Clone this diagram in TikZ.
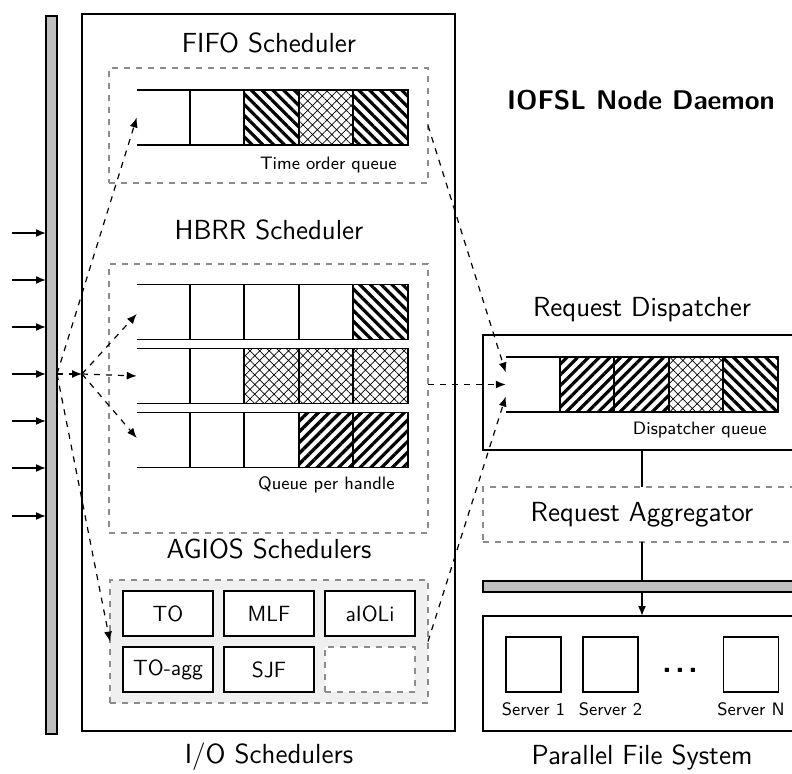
\documentclass[tikz,border=0pt]{standalone}
\usepackage{tikz}
\usetikzlibrary{positioning,patterns.meta,arrows.meta}

\tikzset{
  frame/.style={draw, line width=0.8pt, inner sep=0pt, outer sep=0pt},
  group/.style={draw=black!45, dashed, line width=0.6pt, inner sep=0pt, outer sep=0pt},
  bus/.style={draw, fill=black!25, line width=0.8pt, inner sep=0pt, outer sep=0pt},
  cell/.style={draw, line width=0.8pt, minimum width=27.25pt, minimum height=27.5pt, inner sep=0pt, outer sep=0pt},
  rail/.style={line width=0.8pt},
  nwlines/.style={pattern={Lines[angle=-45,distance=3.8pt,line width=1.6pt]}},
  nelines/.style={pattern={Lines[angle=45,distance=3.8pt,line width=1.6pt]}},
  xdots/.style={pattern={Hatch[angle=45,distance=3.4pt,line width=0.35pt]}},
  title/.style={font=\sffamily\fontsize{13.8}{16}\selectfont},
  small/.style={font=\sffamily\fontsize{9}{11}\selectfont, inner sep=0pt},
  algo/.style={draw, fill=white, line width=0.8pt, minimum width=45pt, minimum height=22.5pt, inner sep=0pt, outer sep=0pt, font=\sffamily\fontsize{11}{13}\selectfont},
  server/.style={draw, line width=0.8pt, minimum size=27.5pt, inner sep=0pt, outer sep=0pt},
  feed/.style={line width=0.8pt, -{Latex[length=5pt,width=4pt]}},
  flow/.style={dashed, line width=0.6pt, -{Latex[length=5pt,width=4pt]}},
}

\begin{document}
\begin{tikzpicture}[x=0.5pt, y=-0.5pt]
  \useasboundingbox (0,0) rectangle (792,774);

  % incoming requests
  \node[bus, minimum width=5.5pt, minimum height=359pt] (leftbar) at (51.5,375) {};
  \foreach \y [count=\i] in {233,280,327,374,421,468,516} {
    \coordinate (in\i) at (12,\y);
    \draw[feed] (in\i) -- (in\i -| leftbar.west);
  }

  % I/O schedulers
  \node[frame, minimum width=186.5pt, minimum height=358.5pt] (iobox) at (268.5,372.5) {};
  \node[title] (iolabel) at (269,757) {I/O Schedulers};

  % FIFO
  \node[title] (fifolabel) at (269,43) {FIFO Scheduler};
  \node[group, minimum width=159.5pt, minimum height=57.5pt] (fifobox) at (268.5,125.5) {};
  \node[cell] (fifo2) at (217,117.5) {};
  \node[cell, nwlines, right=0pt of fifo2] (fifo3) {};
  \node[cell, xdots, right=0pt of fifo3] (fifo4) {};
  \node[cell, nwlines, right=0pt of fifo4] (fifo5) {};
  \coordinate (fifoin) at ([xshift=-26.5pt]fifo2.west);
  \draw[rail] (fifo2.north west) -- (fifo2.north west -| fifoin);
  \draw[rail] (fifo2.south west) -- (fifo2.south west -| fifoin);
  \node[small, anchor=base east] (fifotext) at (397,170) {Time order queue};

  % HBRR
  \node[title] (hbrrlabel) at (269,230) {HBRR Scheduler};
  \node[group, minimum width=159.5pt, minimum height=134.5pt] (hbrrbox) at (268.5,398.5) {};
  \node[cell] (rowa2) at (217,312) {};
  \node[cell, right=0pt of rowa2] (rowa3) {};
  \node[cell, right=0pt of rowa3] (rowa4) {};
  \node[cell, nwlines, right=0pt of rowa4] (rowa5) {};
  \node[cell] (rowb2) at (217,376) {};
  \node[cell, xdots, right=0pt of rowb2] (rowb3) {};
  \node[cell, xdots, right=0pt of rowb3] (rowb4) {};
  \node[cell, xdots, right=0pt of rowb4] (rowb5) {};
  \node[cell] (rowc2) at (217,440) {};
  \node[cell, right=0pt of rowc2] (rowc3) {};
  \node[cell, nelines, right=0pt of rowc3] (rowc4) {};
  \node[cell, nelines, right=0pt of rowc4] (rowc5) {};
  \foreach \r in {a,b,c} {
    \coordinate (row\r in) at ([xshift=-26.5pt]row\r2.west);
    \draw[rail] (row\r2.north west) -- (row\r2.north west -| row\r in);
    \draw[rail] (row\r2.south west) -- (row\r2.south west -| row\r in);
  }
  \node[small, anchor=base east] (hbrrtext) at (395,490) {Queue per handle};

  % AGIOS
  \node[title] (agioslabel) at (269,549) {AGIOS Schedulers};
  \node[group, fill=black!6, minimum width=159pt, minimum height=61.5pt] (agiosbox) at (269,641.5) {};
  \node[algo] (to) at (168,613.5) {TO};
  \node[algo, right=5.5pt of to] (mlf) {MLF};
  \node[algo, right=5.5pt of mlf] (aioli) {aIOLi};
  \node[algo, below=5.5pt of to] (toagg) {TO-agg};
  \node[algo, below=5.5pt of mlf] (sjf) {SJF};
  \node[algo, group, fill=white, below=5.5pt of aioli] (spare) {};

  % requests spread over the schedulers
  \coordinate (fan) at (in4 -| leftbar.east);
  \coordinate (hub) at (fan -| iobox.west);
  \draw[flow] (fan) -- (hub);
  \draw[flow] (fan) -- (fifoin);
  \draw[flow] (fan) -- (agiosbox.west);
  \draw[flow] (hub) -- ([yshift=-1pt]rowain);
  \draw[flow] (hub) -- (rowbin);
  \draw[flow] (hub) -- ([yshift=1pt]rowcin);

  \node[font=\sffamily\bfseries\fontsize{13.5}{16}\selectfont] (daemon) at (641,100) {IOFSL Node Daemon};

  % dispatcher
  \node[title] (displabel) at (642,310) {Request Dispatcher};
  \node[frame, minimum width=163.5pt, minimum height=57.5pt] (dispbox) at (646.5,392.5) {};
  \node[cell, nelines] (disp2) at (587,384.5) {};
  \node[cell, nelines, right=0pt of disp2] (disp3) {};
  \node[cell, xdots, right=0pt of disp3] (disp4) {};
  \node[cell, nwlines, right=0pt of disp4] (disp5) {};
  \coordinate (dispin) at ([xshift=-27pt]disp2.west);
  \draw[rail] (disp2.north west) -- (disp2.north west -| dispin);
  \draw[rail] (disp2.south west) -- (disp2.south west -| dispin);
  \node[small, anchor=base east] (disptext) at (767,435) {Dispatcher queue};
  \draw[flow] (fifobox.east) -- ([yshift=6pt]dispin);
  \draw[flow] (hbrrbox.east |- dispin) -- (dispin);
  \draw[flow] (agiosbox.east) -- ([yshift=-6pt]dispin);

  % aggregator and file system
  \node[group, minimum width=163.5pt, minimum height=27.5pt] (aggbox) at (646.5,514.5) {};
  \node[title] (aggtext) at (642,514.5) {Request Aggregator};
  \draw[rail] (aggtext |- dispbox.south) -- (aggtext |- aggbox.north);
  \node[bus, minimum width=163.5pt, minimum height=5.5pt] (pfsbar) at (646.5,586.5) {};
  \node[frame, minimum width=163.5pt, minimum height=57.5pt] (pfsbox) at (646.5,673.5) {};
  \draw[rail] (aggtext |- aggbox.south) -- (aggtext |- pfsbar.north);
  \draw[feed] (aggtext |- pfsbar.south) -- (aggtext |- pfsbox.north);
  \node[server] (srv1) at (533.5,664.5) {};
  \node[server] (srv2) at (610.5,664.5) {};
  \node[server] (srvn) at (751,664.5) {};
  \node[small, below=5pt of srv1] (srv1text) {Server 1};
  \node[small, below=5pt of srv2] (srv2text) {Server 2};
  \node[small, below=5pt of srvn] (srvntext) {Server N};
  \node[font=\sffamily\bfseries\fontsize{16}{18}\selectfont, anchor=base] (dots) at (680,672) {.\kern1.6pt.\kern1.6pt.};
  \node[title] (pfslabel) at (642,757) {Parallel File System};
\end{tikzpicture}
\end{document}
